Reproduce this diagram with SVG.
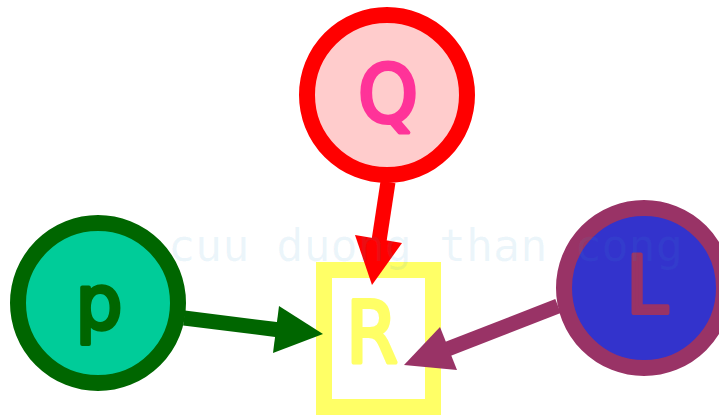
<svg xmlns="http://www.w3.org/2000/svg" width="719" height="415" viewBox="0 0 719 415">
<style>
.lbl{font-family:"DejaVu Sans","Liberation Sans",sans-serif;font-weight:bold;text-anchor:middle;stroke-width:1.5;stroke-linejoin:round}
.node{stroke-width:16}
.shaft{stroke-width:15;fill:none}
.wm{font-family:"DejaVu Sans Mono","Liberation Mono",monospace;font-size:45px;fill:#3399cc;fill-opacity:0.09}
</style>
<rect width="719" height="415" fill="#ffffff"/>
<g id="node-R">
<rect x="324" y="270" width="109" height="137" fill="#ffffff" stroke="#ffff66" class="node"/>
<text x="372" y="362" class="lbl" font-size="86" fill="#ffff66" stroke="#ffff66" textLength="52" lengthAdjust="spacingAndGlyphs" style="font-weight:normal;stroke-width:4">R</text>
</g>
<g id="node-P">
<circle cx="98" cy="303" r="80" fill="#00cc99" stroke="#006600" class="node"/>
<text x="99" y="328" class="lbl" font-size="74" fill="#006600" stroke="#006600" style="font-weight:normal;stroke-width:4">p</text>
</g>
<g id="node-Q">
<circle cx="387" cy="95" r="80" fill="#ffcccc" stroke="#ff0000" class="node"/>
<text x="388" y="122" class="lbl" font-size="80" fill="#ff3399" stroke="#ff3399" textLength="60" lengthAdjust="spacingAndGlyphs" style="font-weight:normal;stroke-width:4">Q</text>
</g>
<g id="node-L">
<circle cx="644" cy="288" r="80" fill="#3333cc" stroke="#993366" class="node"/>
<text x="647" y="313" class="lbl" font-size="80" fill="#993366" stroke="#993366" textLength="42" lengthAdjust="spacingAndGlyphs" style="font-weight:normal;stroke-width:4">L</text>
</g>
<g id="connectors">
<line x1="184" y1="318" x2="280" y2="330" stroke="#006600" class="shaft"/>
<polygon points="279,306 323,334 273,353" fill="#006600"/>
<line x1="388" y1="182" x2="379" y2="241" stroke="#ff0000" class="shaft"/>
<polygon points="355,235 372,285 402,243" fill="#ff0000"/>
<line x1="558" y1="306" x2="445" y2="350" stroke="#993366" class="shaft"/>
<polygon points="440,327 404,365 457,370" fill="#993366"/>
</g>
<text x="168" y="261" class="wm">cuu duong than cong</text>
</svg>
